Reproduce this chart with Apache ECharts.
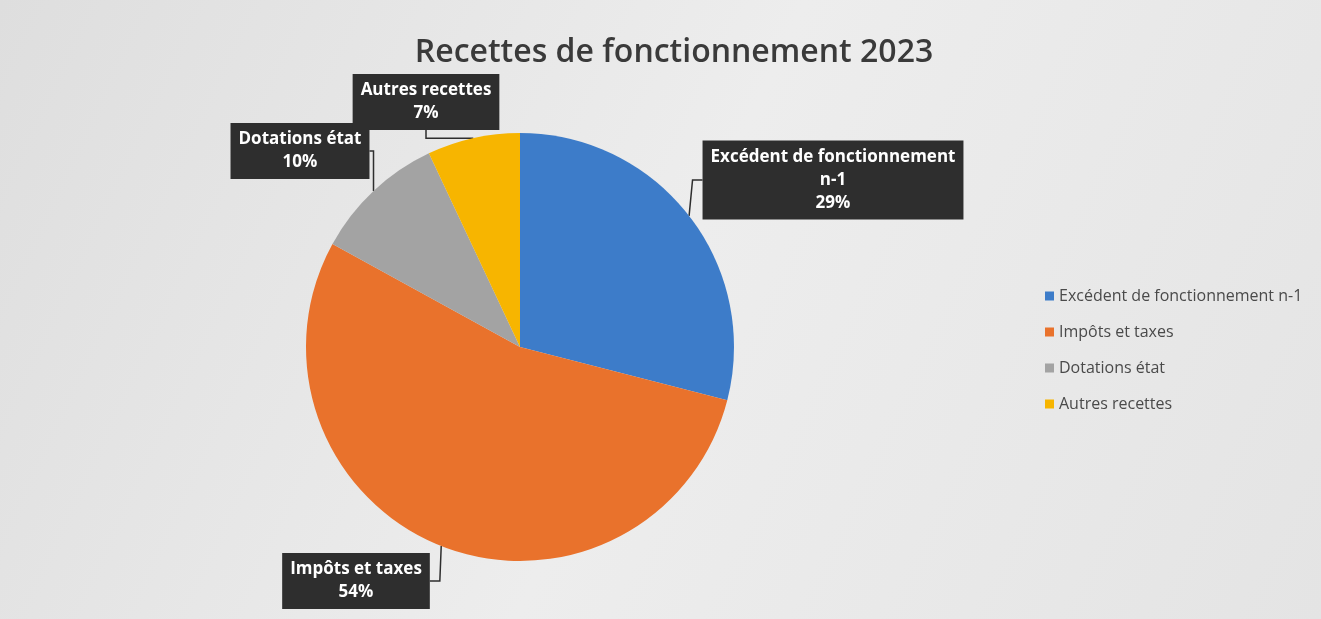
<!DOCTYPE html>
<html><head><meta charset="utf-8">
<script src="https://cdn.jsdelivr.net/npm/echarts@6/dist/echarts.min.js"></script>
<style>html,body{margin:0;padding:0;}#c{width:1321px;height:619px;}</style>
</head><body><div id="c"></div>
<script>
const categories = ['Excédent de fonctionnement n-1', 'Impôts et taxes', 'Dotations état', 'Autres recettes'];
const labelTexts = ['Excédent de fonctionnement\nn-1', 'Impôts et taxes', 'Dotations état', 'Autres recettes'];
const values = [29, 54, 10, 7];
const colors = ['#3d7cc9', '#e9722c', '#a3a3a3', '#f7b500'];
const labelCenters = [[833, 180], [356, 581], [300, 151], [426, 102]];

const chart = echarts.init(document.getElementById('c'));
chart.setOption({
  backgroundColor: {
    type: 'linear', x: 0, y: 0, x2: 1, y2: 1,
    colorStops: [{offset: 0, color: '#dedede'}, {offset: 0.5, color: '#ededed'}, {offset: 1, color: '#e4e4e4'}]
  },
  title: {
    text: 'Recettes de fonctionnement 2023',
    left: 669, top: 32, textAlign: 'center',
    textStyle: {fontFamily: 'Open Sans', fontSize: 32, fontWeight: 600, color: '#3a3a3a'}
  },
  legend: {
    orient: 'vertical', left: 1040, top: 283, itemGap: 20,
    itemWidth: 9, itemHeight: 9, icon: 'rect',
    textStyle: {fontFamily: 'Open Sans', fontSize: 16, color: '#4a4a4a'},
    data: categories
  },
  series: [{
    type: 'pie',
    center: [520, 347], radius: 214,
    startAngle: 90, clockwise: true,
    color: colors,
    avoidLabelOverlap: false,
    label: {
      show: true,
      formatter: p => labelTexts[p.dataIndex] + '\n' + p.value + '%',
      backgroundColor: '#2e2e2e', color: '#ffffff',
      fontFamily: 'Open Sans', fontSize: 17, fontWeight: 'bold',
      lineHeight: 23, padding: [5, 8], align: 'center'
    },
    labelLine: {show: true, length: 10, length2: 10, lineStyle: {color: '#2e2e2e', width: 1.5}},
    labelLayout: p => ({x: labelCenters[p.dataIndex][0], y: labelCenters[p.dataIndex][1], align: 'center', verticalAlign: 'middle'}),
    data: categories.map((c, i) => ({name: c, value: values[i]}))
  }]
});
</script></body></html>
